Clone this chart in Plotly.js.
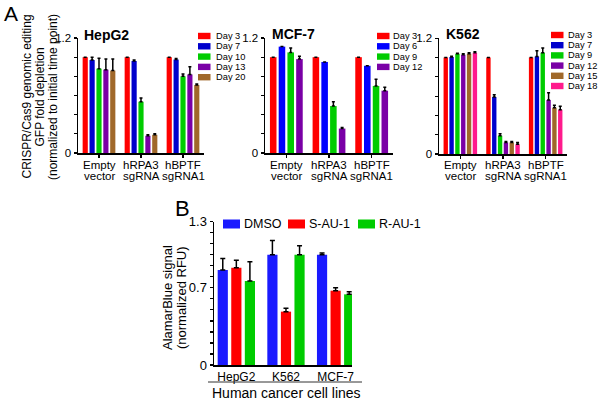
<!DOCTYPE html>
<html>
<head>
<meta charset="utf-8">
<script src="https://cdn.plot.ly/plotly-3.0.1.min.js"></script>
<style>html,body{margin:0;padding:0;background:#fff;}#chart{width:600px;height:400px;}</style>
</head>
<body>
<div id="chart"></div>
<script>
// ---------- Panel A data ----------
const groupsA = ['Empty vector', 'hRPA3 sgRNA', 'hBPTF sgRNA1'];

const hepDays = ['Day 3', 'Day 7', 'Day 10', 'Day 13', 'Day 20'];
const hepVals = [
  [1.00, 1.00, 1.00],
  [0.97, 0.96, 0.975],
  [0.88, 0.535, 0.80],
  [0.87, 0.18, 0.82],
  [0.86, 0.19, 0.71]
];
const hepErr = [
  [0, 0, 0],
  [0.03, 0.01, 0.01],
  [0.11, 0.04, 0.025],
  [0.11, 0.01, 0.08],
  [0.12, 0.01, 0.01]
];
const hepColors = ['#ff0000', '#0000cc', '#00cc00', '#7a00a6', '#a0682a'];

const mcfDays = ['Day 3', 'Day 6', 'Day 9', 'Day 12'];
const mcfVals = [
  [1.00, 1.00, 1.00],
  [1.11, 0.95, 0.91],
  [1.05, 0.49, 0.70],
  [0.98, 0.255, 0.65]
];
const mcfErr = [
  [0, 0, 0],
  [0, 0, 0],
  [0.045, 0.045, 0.07],
  [0.03, 0.01, 0.035]
];
const mcfColors = ['#ff0000', '#0000ff', '#00cc00', '#7a00a6'];

const kDays = ['Day 3', 'Day 7', 'Day 9', 'Day 12', 'Day 15', 'Day 18'];
const kVals = [
  [1.00, 1.00, 1.00],
  [1.005, 0.59, 1.01],
  [1.04, 0.19, 1.05],
  [1.03, 0.12, 0.56],
  [1.04, 0.12, 0.48],
  [1.05, 0.10, 0.46]
];
const kErr = [
  [0, 0, 0],
  [0.01, 0.025, 0.06],
  [0.005, 0.02, 0.05],
  [0.01, 0.01, 0.075],
  [0.01, 0.01, 0.025],
  [0.01, 0.02, 0.035]
];
const kColors = ['#ff0000', '#0000cc', '#00cc00', '#7a00a6', '#a0682a', '#ff1a8c'];

const tickValsA = [0, 0.2, 0.4, 0.6, 0.8, 1.0, 1.2];
const tickTextA = ['0', '', '', '', '', '', '1.2'];

// ---------- Panel B data ----------
const cellsB = ['HepG2', 'K562', 'MCF-7'];
const treatB = ['DMSO', 'S-AU-1', 'R-AU-1'];
const valsB = [
  [0.862, 1.00, 1.00],
  [0.883, 0.484, 0.674],
  [0.762, 1.00, 0.641]
];
const errB = [
  [0.105, 0.13, 0.015],
  [0.067, 0.03, 0.027],
  [0.175, 0.082, 0.024]
];
const colorsB = ['#1a1aff', '#ff0000', '#00cc00'];
const tickValsB = [0, 0.1, 0.2, 0.3, 0.4, 0.5, 0.6, 0.7, 0.8, 0.9, 1.0, 1.1, 1.2, 1.3];
const tickTextB = ['0', '', '', '', '', '', '', '0.7', '', '', '', '', '', '1.3'];

// ---------- helpers ----------
const W = 600, H = 400;
const px = v => v / W;
const py = v => 1 - v / H;
const FONT = 'Liberation Sans, Arial, sans-serif';

const traces = [];
function addBars(names, vals, errs, colors, xa, ya, cats, capw) {
  names.forEach((n, i) => {
    traces.push({
      type: 'bar', name: n, x: cats, y: vals[i],
      xaxis: xa, yaxis: ya, showlegend: false,
      marker: {color: colors[i], line: {width: 0}},
      error_y: {type: 'data', symmetric: false, array: errs[i],
                arrayminus: errs[i].map(() => 0), color: '#000', thickness: 1.5, width: capw}
    });
  });
}
addBars(hepDays, hepVals, hepErr, hepColors, 'x', 'y', groupsA, 1.5);
addBars(mcfDays, mcfVals, mcfErr, mcfColors, 'x2', 'y2', groupsA, 1.5);
addBars(kDays, kVals, kErr, kColors, 'x3', 'y3', groupsA, 1.5);
addBars(treatB, valsB, errB, colorsB, 'x4', 'y4', cellsB, 2.5);

function yAxisA(dom, xa) {
  return {domain: dom, anchor: xa, range: [0, 1.2], showline: true, linewidth: 1.5, linecolor: '#000',
          ticks: 'outside', ticklen: 3, tickwidth: 1.2, tickcolor: '#000',
          tickvals: tickValsA, ticktext: tickTextA, showgrid: false, zeroline: false,
          tickfont: {family: FONT, size: 11.5, color: '#000'}};
}
function xAxisA(dom, ya) {
  return {domain: dom, anchor: ya, type: 'category', range: [-0.5, 2.5], showline: true, linewidth: 1.5,
          linecolor: '#000', ticks: 'outside', ticklen: 3, tickwidth: 1.2, tickcolor: '#000',
          showticklabels: false, showgrid: false, zeroline: false};
}

const layout = {
  width: W, height: H, margin: {l: 0, r: 0, t: 0, b: 0},
  paper_bgcolor: '#fff', plot_bgcolor: 'rgba(0,0,0,0)',
  barmode: 'group', bargap: 0.18, bargroupgap: 0.25,
  showlegend: false,
  font: {family: FONT, color: '#000'},
  xaxis: xAxisA([px(78), px(204)], 'y'),
  yaxis: yAxisA([py(153), py(38)], 'x'),
  xaxis2: xAxisA([px(265), px(393)], 'y2'),
  yaxis2: yAxisA([py(153), py(38)], 'x2'),
  xaxis3: xAxisA([px(439), px(567)], 'y3'),
  yaxis3: yAxisA([py(154), py(38.3)], 'x3'),
  xaxis4: {domain: [px(214), px(352)], anchor: 'y4', type: 'category', range: [-0.45, 2.33],
           showline: true, linewidth: 1.5, linecolor: '#000', ticks: '', showgrid: false, zeroline: false,
           tickfont: {family: FONT, size: 12, color: '#000'}},
  yaxis4: {domain: [py(365), py(221.7)], anchor: 'x4', range: [0, 1.3], showline: true, linewidth: 1.5,
           linecolor: '#000', ticks: 'outside', ticklen: 3, tickwidth: 1.2, tickcolor: '#000',
           tickvals: tickValsB, ticktext: tickTextB, showgrid: false, zeroline: false,
           tickfont: {family: FONT, size: 13, color: '#000'}},
  annotations: [],
  shapes: []
};

const ann = layout.annotations, shp = layout.shapes;
function text(t, x, y, opts) {
  ann.push(Object.assign({text: t, x: px(x), y: py(y), xref: 'paper', yref: 'paper', showarrow: false,
    xanchor: 'left', yanchor: 'middle', font: {family: FONT, size: 12, color: '#000'}}, opts || {}));
}

// panel letters
text('A', 2, 0, {yanchor: 'top', font: {family: FONT, size: 21, color: '#000'}});
text('B', 173, 208, {font: {family: FONT, size: 22, color: '#000'}});

// subplot titles
text('<b>HepG2</b>', 82, 35, {font: {family: FONT, size: 14, color: '#000'}});
text('<b>MCF-7</b>', 270, 34, {font: {family: FONT, size: 14, color: '#000'}});
text('<b>K562</b>', 444, 34, {font: {family: FONT, size: 14, color: '#000'}});

// y titles A
const yTitleA = ['CRISPR/Cas9 genomic editing', 'GFP fold depletion', '(normalized to initial time point)'];
const yTitleAx = [26.5, 39.5, 53];
yTitleA.forEach((t, i) => text(t, yTitleAx[i], 97, {xanchor: 'center', textangle: -90}));

// y title B
const yTitleB = ['AlamarBlue signal', '(normalized RFU)'];
const yTitleBx = [167, 181];
yTitleB.forEach((t, i) => text(t, yTitleBx[i], 298, {xanchor: 'center', textangle: -90, font: {family: FONT, size: 13, color: '#000'}}));

// category labels for panel A (two lines each)
['x', 'x2', 'x3'].forEach(xa => {
  groupsA.forEach((g, i) => {
    const parts = g.split(' ');
    [0, 1].forEach(k => ann.push({text: parts[k], x: i, xref: xa, y: py(k === 0 ? 165 : 176.5), yref: 'paper',
      showarrow: false, xanchor: 'center', yanchor: 'middle', font: {family: FONT, size: 11.5, color: '#000'}}));
  });
});

// legends for panel A
function legendCol(names, colors, bx, by, step, fsize, tx) {
  names.forEach((n, i) => {
    const cy = by + i * step;
    shp.push({type: 'rect', xref: 'paper', yref: 'paper', x0: px(bx), x1: px(bx + 12.5),
              y0: py(cy + 3.2), y1: py(cy - 3.2), fillcolor: colors[i], line: {width: 0}});
    text(n, bx + tx, cy, {font: {family: FONT, size: fsize, color: '#000'}});
  });
}
legendCol(hepDays, hepColors, 198, 36, 10.3, 9.3, 16);
legendCol(mcfDays, mcfColors, 377, 36, 10.3, 9.3, 14);
legendCol(kDays, kColors, 551, 35, 10.2, 9.3, 15);

// legend for panel B (horizontal)
const legBx = [223, 288, 358];
treatB.forEach((n, i) => {
  shp.push({type: 'rect', xref: 'paper', yref: 'paper', x0: px(legBx[i]), x1: px(legBx[i] + 17),
            y0: py(228.5), y1: py(219.5), fillcolor: colorsB[i], line: {width: 0}});
  text(n, legBx[i] + 19, 224, {font: {family: FONT, size: 12.5, color: '#000'}});
});

// panel B x-title with underline
shp.push({type: 'line', xref: 'paper', yref: 'paper', x0: px(208), x1: px(362), y0: py(382), y1: py(382),
          line: {color: '#333', width: 1}});
text('Human cancer cell lines', 286, 393, {xanchor: 'center', font: {family: FONT, size: 14, color: '#000'}});

Plotly.newPlot('chart', traces, layout, {staticPlot: true, displayModeBar: false});
</script>
</body>
</html>
